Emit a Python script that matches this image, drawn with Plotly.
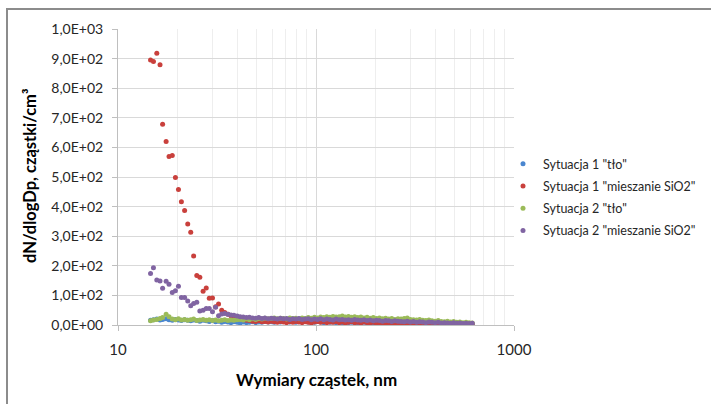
import plotly.graph_objects as go

# particle diameters (nm), SMPS channel midpoints
diam = [14.6, 15.1, 15.7, 16.3, 16.8, 17.5, 18.1, 18.8, 19.5, 20.2,
        20.9, 21.7, 22.5, 23.3, 24.1, 25.0, 25.9, 26.9, 27.9, 28.9,
        30.0, 31.1, 32.2, 33.4, 34.6, 35.9, 37.2, 38.5, 40.0, 41.4,
        42.9, 44.5, 46.1, 47.8, 49.6, 51.4, 53.3, 55.2, 57.3, 59.4,
        61.5, 63.8, 66.1, 68.5, 71.0, 73.7, 76.4, 79.1, 82.0, 85.1,
        88.2, 91.4, 94.7, 98.2, 101.8, 105.5, 109.4, 113.4, 117.6, 121.9,
        126.3, 131.0, 135.8, 140.7, 145.9, 151.2, 156.8, 162.5, 168.5, 174.7,
        181.1, 187.7, 194.6, 201.7, 209.1, 216.7, 224.7, 232.9, 241.4, 250.3,
        259.5, 269.0, 278.8, 289.0, 299.6, 310.6, 322.0, 333.8, 346.0, 358.7,
        371.8, 385.4, 399.5, 414.2, 429.4, 445.1, 461.4, 478.3, 495.8, 514.0,
        532.8, 552.3, 572.5, 593.5, 615.3]

s1_tlo = [16, 18, 20, 17, 19, 21, 18, 16, 19, 17, 15, 18, 16, 14, 17, 15, 13, 16, 14, 12, 15,
          11, 13, 9, 12, 10, 8, 11, 9, 7, 10, 8, 9, 11, 8, 10, 9, 12, 10, 11, 9, 12, 10, 13, 11, 10, 12, 9, 11, 10, 12,
          10, 11, 9, 12, 10, 8, 11, 9, 10, 8, 9, 7, 10, 8, 9, 7, 8, 6, 9, 7, 6, 8, 5, 7, 6, 4, 6, 5, 4, 6,
          5, 4, 3, 5, 4, 3, 4, 2, 4, 3, 2, 4, 3, 2, 3, 2, 3, 1, 3, 2, 2, 3, 1, 2]

s1_sio2 = [895, 890, 918, 879, 678, 620, 569, 573, 498, 458, 416, 387, 341, 313, 233, 167, 161, 114, 125, 90, 91, 62, 71, 50,
           42, 36, 31, 27, 24, 20, 18, 16, 15, 13, 12, 14, 11, 12, 10, 13, 11,
           9, 12, 10, 8, 11, 9, 12, 10, 8, 11, 9, 7, 10, 12, 9, 11, 8, 10, 9, 11, 8, 10, 7, 9, 11, 8, 9, 7, 10, 8,
           7, 9, 6, 8, 7, 5, 8, 6, 7, 5, 6, 8, 5, 6, 4, 7, 5, 6, 4, 5, 6, 4, 5, 3, 5, 4, 6, 3, 4, 5, 3, 4, 3, 4]

s2_tlo = [14, 17, 19, 22, 25, 36, 28, 20, 18, 21, 17, 19, 16, 18, 20, 15, 17, 19, 16, 18, 15,
          17, 14, 16, 18, 15, 17, 16, 18, 19, 17, 20, 18, 21, 19, 22, 20, 23, 21, 22, 24, 21, 23, 22, 20, 24, 22, 23, 21, 24, 22,
          25, 23, 26, 24, 27, 25, 28, 26, 29, 27, 28, 30, 27, 29, 26, 28, 25, 27, 24, 26, 23, 25, 22, 24, 21, 23, 20, 22, 19, 21,
          20, 22, 24, 19, 18, 17, 19, 16, 15, 17, 14, 13, 15, 12, 11, 13, 10, 12, 9, 10, 8, 9, 8, 7]

s2_sio2 = [174, 193, 152, 149, 124, 148, 138, 110, 116, 131, 93, 93, 81, 65, 73, 77, 47, 50, 56, 56, 45, 60, 31, 37, 39, 36, 34, 33,
           30, 28, 27, 25, 26, 24, 23, 25, 22, 24, 21, 23, 22, 20, 23, 21, 22, 19, 21, 20, 22, 19, 20, 21, 18, 20,
           19, 21, 18, 20, 19, 17, 20, 18, 19, 17, 18, 16, 19, 17, 16, 18, 15, 17, 14, 16, 15, 13, 15, 14, 12, 14, 13,
           12, 11, 13, 10, 12, 9, 11, 10, 8, 10, 9, 8, 9, 7, 8, 7, 6, 8, 6, 7, 5, 6, 5, 6]

series_names = ['Sytuacja 1 "tło"', 'Sytuacja 1 "mieszanie SiO2"',
                'Sytuacja 2 "tło"', 'Sytuacja 2 "mieszanie SiO2"']
series_vals = [s1_tlo, s1_sio2, s2_tlo, s2_sio2]
colors = ["#4a86cf", "#c9403c", "#9bbb59", "#8064a2"]

y_tickvals = [0, 100, 200, 300, 400, 500, 600, 700, 800, 900, 1000]
y_ticktext = ["0,0E+00", "1,0E+02", "2,0E+02", "3,0E+02", "4,0E+02", "5,0E+02",
              "6,0E+02", "7,0E+02", "8,0E+02", "9,0E+02", "1,0E+03"]
x_tickvals = [10, 100, 1000]
x_ticktext = ["10", "100", "1000"]

W, H = 711, 404
L, R, T, B = 118, 197, 29, 79
pw, ph = W - L - R, H - T - B

fig = go.Figure()
for i, (name, vals) in enumerate(zip(series_names, series_vals)):
    fig.add_trace(go.Scatter(
        x=diam, y=vals, mode="markers", name=name,
        marker=dict(size=5, color=colors[i], line=dict(width=0)),
        legendgroup=f"g{i}",
    ))

font_family = "Lato, 'Liberation Sans', sans-serif"

fig.update_layout(
    width=W, height=H,
    margin=dict(l=L, r=R, t=T, b=B, autoexpand=False),
    paper_bgcolor="white", plot_bgcolor="white",
    font=dict(family=font_family, color="#404040", size=13),
    showlegend=True,
    legend=dict(
        x=(503 - L) / pw, xanchor="left", y=((H - B) - 197) / ph, yanchor="middle",
        font=dict(family=font_family, size=12.5, color="#262626"),
        itemwidth=30, tracegroupgap=3, bgcolor="rgba(0,0,0,0)",
    ),
    xaxis=dict(
        type="log", range=[1, 3],
        tickmode="array", tickvals=x_tickvals, ticktext=x_ticktext,
        showgrid=True, gridcolor="#d9d9d9", gridwidth=1,
        minor=dict(dtick="D1", showgrid=True, gridcolor="#eeeeee", gridwidth=1, ticks=""),
        showline=True, linecolor="#bfbfbf", linewidth=1,
        ticks="outside", ticklen=5, tickcolor="#bfbfbf",
        tickfont=dict(size=15, color="#262626"),
        ticklabelstandoff=6,
        zeroline=False,
    ),
    yaxis=dict(
        range=[0, 1000],
        tickmode="array", tickvals=y_tickvals, ticktext=y_ticktext,
        showgrid=True, gridcolor="#d9d9d9", gridwidth=1,
        showline=True, linecolor="#bfbfbf", linewidth=1,
        ticks="outside", ticklen=5, tickcolor="#bfbfbf",
        tickfont=dict(size=14, color="#262626"),
        ticklabelstandoff=6,
        zeroline=False,
    ),
)

# axis titles as annotations for precise placement
fig.add_annotation(
    text="Wymiary cząstek, nm", xref="paper", yref="paper",
    x=0.5, y=-(379 - (H - B)) / ph, xanchor="center", yanchor="middle",
    showarrow=False, font=dict(family=font_family, size=17, color="#000000", weight="bold"),
)
fig.add_annotation(
    text="dN/dlogDp, cząstki/cm³", xref="paper", yref="paper",
    x=(30 - L) / pw, y=((H - B) - 176) / ph,
    xanchor="center", yanchor="middle", textangle=-90,
    showarrow=False, font=dict(family=font_family, size=16.5, color="#000000", weight="bold"),
)

# outer chart border (cropped at right and bottom)
fig.add_shape(
    type="rect", xref="paper", yref="paper",
    x0=(7 - L) / pw, x1=(760 - L) / pw,
    y0=((H - B) - 450) / ph, y1=((H - B) - 9) / ph,
    line=dict(color="#8c8c8c", width=2), fillcolor="rgba(0,0,0,0)", layer="below",
)

fig.write_html("out.html")
